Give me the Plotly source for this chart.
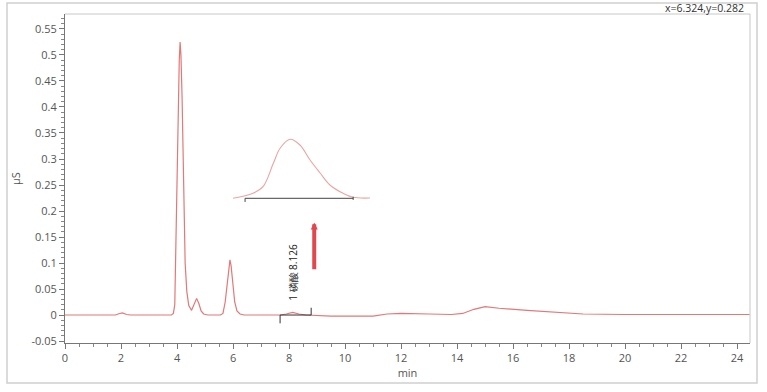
import plotly.graph_objects as go

# ---- main chromatogram trace (min, µS) ----
time_min = [0.0, 1.80, 1.95, 2.05, 2.20, 2.35, 3.80, 3.87, 3.92, 3.96, 4.00, 4.04, 4.08, 4.11,
            4.14, 4.18, 4.22, 4.25, 4.29, 4.35, 4.42, 4.52, 4.60, 4.70, 4.78, 4.86, 4.95, 5.10,
            5.55, 5.64, 5.72, 5.80, 5.86, 5.89, 5.93, 5.99, 6.06, 6.14, 6.25, 6.40,
            7.70, 7.90, 8.13, 8.35, 8.60, 9.50, 11.00, 11.50, 12.00, 13.00, 13.80, 14.20,
            14.60, 15.00, 15.50, 16.50, 17.50, 18.50, 20.00, 22.00, 24.45]
signal_uS = [0.000, 0.000, 0.003, 0.004, 0.001, 0.000, 0.000, 0.003, 0.020, 0.150, 0.300, 0.400,
             0.490, 0.525, 0.500, 0.420, 0.310, 0.200, 0.100, 0.045, 0.018, 0.009, 0.018, 0.032,
             0.022, 0.008, 0.002, 0.000, 0.000, 0.003, 0.025, 0.070, 0.100, 0.106, 0.095, 0.060,
             0.025, 0.008, 0.002, 0.000, 0.000, 0.002, 0.005, 0.002, 0.000, -0.002, -0.002,
             0.002, 0.003, 0.002, 0.001, 0.003, 0.011, 0.016, 0.013, 0.009, 0.005, 0.002,
             0.001, 0.001, 0.001]

# ---- magnified inset of the 8.126 min peak (drawn in data coords) ----
inset_t = [6.00, 6.71, 7.07, 7.44, 7.68, 8.04, 8.39, 8.75, 9.11, 9.46, 9.93, 10.29, 10.89]
inset_v = [0.2244, 0.234, 0.2467, 0.2917, 0.3206, 0.3379, 0.3269, 0.2981, 0.2731, 0.250,
           0.234, 0.2263, 0.225]
inset_base_t = [6.43, 10.29]
inset_base_v = [0.2244, 0.2244]

# ---- integration marks of peak 1 ----
integ_t = [7.68, 8.79]
integ_v = [0.0, 0.0]
peak_label = "1 磷酸 8.126"
peak_label_pos = (8.14, 0.083)

# arrow (from -> to)
arrow_t = 8.9
arrow_from = 0.085
arrow_to = 0.178

# ticks
x_ticks = [0, 2, 4, 6, 8, 10, 12, 14, 16, 18, 20, 22, 24]
y_ticks = [-0.05, 0, 0.05, 0.1, 0.15, 0.2, 0.25, 0.3, 0.35, 0.4, 0.45, 0.5, 0.55]
y_ticktext = ["-0.05", "0", "0.05", "0.1", "0.15", "0.2", "0.25", "0.3", "0.35", "0.4",
              "0.45", "0.5", "0.55"]
x_range = [0, 24.46]
y_range = [-0.0538, 0.5788]

W, H = 767, 392
ML, MR, MT, MB = 65, 17, 14, 49
PW, PH = W - ML - MR, H - MT - MB

def px_x(p):
    return (p - ML) / PW

def px_y(p):
    return (H - MB - p) / PH

RED = "#e27878"
FONT = "Open Sans"

fig = go.Figure()
fig.add_trace(go.Scatter(x=time_min, y=signal_uS, mode="lines",
                         line=dict(color=RED, width=1.2), hoverinfo="skip"))
fig.add_trace(go.Scatter(x=inset_t, y=inset_v, mode="lines",
                         line=dict(color="#eba4a4", width=1.1, shape="spline"), hoverinfo="skip"))
fig.add_trace(go.Scatter(x=inset_base_t, y=inset_base_v, mode="lines",
                         line=dict(color="#444444", width=1), hoverinfo="skip"))
fig.add_trace(go.Scatter(x=integ_t, y=integ_v, mode="lines",
                         line=dict(color="#333333", width=1), hoverinfo="skip"))

shapes = []
# integration start / end ticks
shapes.append(dict(type="line", xref="x", yref="y", x0=integ_t[0], x1=integ_t[0],
                   y0=0.0, y1=-0.016, line=dict(color="#333", width=1)))
shapes.append(dict(type="line", xref="x", yref="y", x0=integ_t[1], x1=integ_t[1],
                   y0=0.0, y1=0.014, line=dict(color="#333", width=1)))
# inset end ticks
shapes.append(dict(type="line", xref="x", yref="y", x0=inset_base_t[0], x1=inset_base_t[0],
                   y0=inset_base_v[0], y1=inset_base_v[0] - 0.007, line=dict(color="#444", width=1)))
shapes.append(dict(type="line", xref="x", yref="y", x0=inset_base_t[1], x1=inset_base_t[1],
                   y0=inset_base_v[1] + 0.003, y1=inset_base_v[1] - 0.003, line=dict(color="#444", width=1)))
# plot frame top/right
shapes.append(dict(type="line", xref="paper", yref="paper", x0=0, x1=1, y0=1, y1=1,
                   line=dict(color="#c8c8c8", width=1)))
shapes.append(dict(type="line", xref="paper", yref="paper", x0=1, x1=1, y0=0, y1=1,
                   line=dict(color="#c8c8c8", width=1)))
# outer border
shapes.append(dict(type="rect", xref="paper", yref="paper",
                   x0=px_x(7), x1=px_x(757), y0=px_y(383), y1=px_y(3),
                   line=dict(color="#d0d0d0", width=1.5), layer="below"))

annotations = [
    dict(x=arrow_t, y=arrow_to, ax=arrow_t, ay=arrow_from, xref="x", yref="y",
         axref="x", ayref="y", showarrow=True, arrowcolor="#e0474f", arrowwidth=4,
         arrowhead=2, arrowsize=0.35, text=""),
    dict(x=peak_label_pos[0], y=peak_label_pos[1], xref="x", yref="y", text=peak_label,
         showarrow=False, textangle=-90, font=dict(size=10, color="#222", family=FONT)),
    dict(x=px_x(746), y=px_y(8), xref="paper", yref="paper", text="x=6.324,y=0.282",
         showarrow=False, xanchor="right", yanchor="middle",
         font=dict(size=10.5, color="#333", family=FONT)),
]

fig.update_layout(
    width=W, height=H, margin=dict(l=ML, r=MR, t=MT, b=MB),
    paper_bgcolor="white", plot_bgcolor="white", showlegend=False,
    font=dict(family=FONT, size=11, color="#555"),
    shapes=shapes, annotations=annotations,
    xaxis=dict(range=x_range, tickvals=x_ticks, ticks="outside", ticklen=5, tickcolor="#777",
               showline=True, linecolor="#777", showgrid=False, zeroline=False,
               minor=dict(dtick=0.5, ticks="outside", ticklen=3, tickcolor="#888"),
               title=dict(text="min", font=dict(size=11, color="#555"), standoff=4),
               tickfont=dict(size=11, color="#555")),
    yaxis=dict(range=y_range, tickvals=y_ticks, ticktext=y_ticktext, ticks="outside",
               ticklen=5, tickcolor="#777", showline=True, linecolor="#777",
               showgrid=False, zeroline=False,
               minor=dict(dtick=0.01, ticks="outside", ticklen=3, tickcolor="#888"),
               title=dict(text="µS", font=dict(size=11, color="#555"), standoff=8),
               tickfont=dict(size=11, color="#555")),
)

fig.write_html("out.html")
